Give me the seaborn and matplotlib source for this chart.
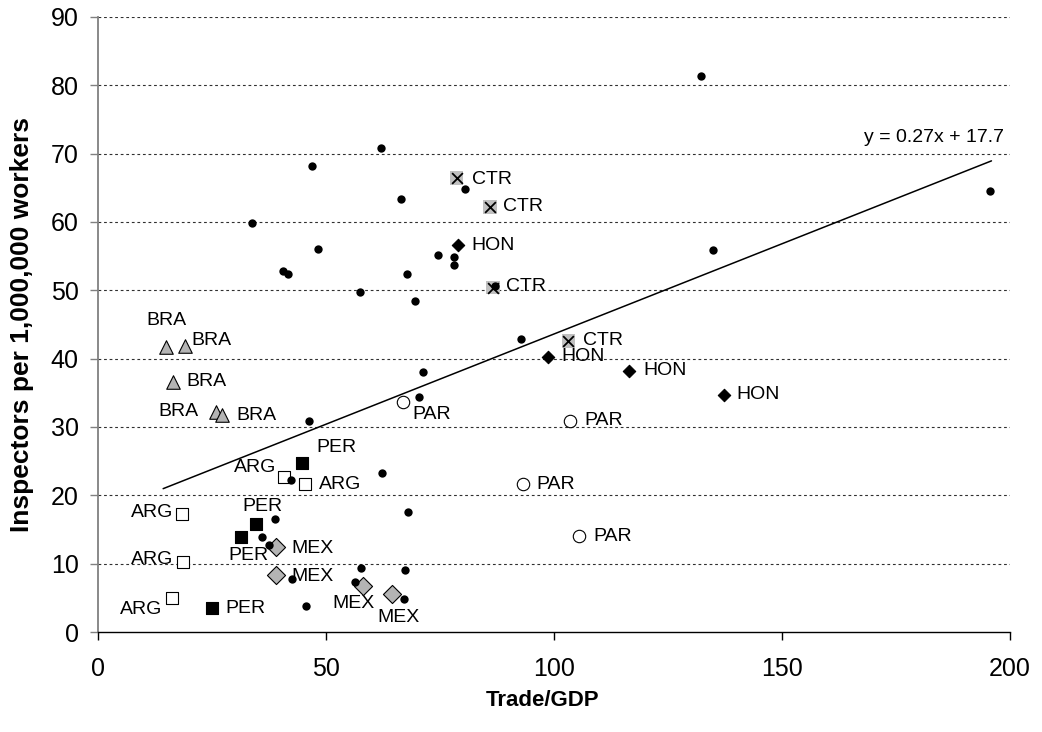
import matplotlib
matplotlib.use("Agg")
import matplotlib.pyplot as plt
import numpy as np
import seaborn as sns

# values (Trade/GDP, inspectors per 1,000,000 workers)
other_x = [195.7, 135.0, 132.2, 92.7, 80.5, 62.0, 46.9, 66.5, 33.8, 48.3, 74.6, 78.1,
           78.1, 40.5, 41.7, 67.7, 57.5, 69.6, 87.1, 71.3, 70.5, 46.3, 62.4, 42.4,
           68.0, 38.8, 36.0, 37.6, 57.6, 67.4, 42.5, 56.4, 67.1, 45.7]
other_y = [64.5, 55.9, 81.3, 42.9, 64.8, 70.9, 68.2, 63.4, 59.8, 56.1, 55.2, 54.9,
           53.7, 52.9, 52.4, 52.4, 49.7, 48.4, 50.6, 38.1, 34.4, 30.9, 23.3, 22.2,
           17.5, 16.5, 13.9, 12.7, 9.4, 9.1, 7.8, 7.3, 4.8, 3.8]

bra_x = [14.9, 19.2, 16.4, 26.0, 27.3]
bra_y = [41.7, 41.9, 36.6, 32.2, 31.7]
arg_x = [40.9, 45.5, 18.4, 18.6, 16.2]
arg_y = [22.7, 21.7, 17.2, 10.3, 5.0]
per_x = [44.7, 34.7, 31.3, 25.1]
per_y = [24.8, 15.8, 13.9, 3.5]
mex_x = [39.1, 39.0, 58.2, 64.5]
mex_y = [12.4, 8.3, 6.8, 5.6]
ctr_x = [78.7, 86.0, 86.7, 103.2]
ctr_y = [66.4, 62.2, 50.4, 42.6]
hon_x = [79.0, 98.8, 116.5, 137.4]
hon_y = [56.6, 40.3, 38.2, 34.7]
par_x = [67.0, 103.6, 93.3, 105.5]
par_y = [33.6, 30.9, 21.6, 14.0]

trend_slope = 0.264
trend_intercept = 17.2
trend_label = "y = 0.27x + 17.7"

# label placement (pixel offsets from the marker, alignment)
bra_pos = [(1, 27, "center"), (6, 5, "left"), (14, 0, "left"), (-18, 0, "right"), (14, 0, "left")]
arg_pos = [(-8, 9, "right"), (14, -1, "left"), (-9, 2, "right"), (-9, 2, "right"), (-9, -12, "right")]
per_pos = [(15, 15, "left"), (6, 18, "center"), (8, -18, "center"), (13, 0, "left")]
mex_pos = [(15, -1, "left"), (16, -1, "left"), (-10, -18, "center"), (7, -24, "center")]
ctr_pos = [(15, -1, "left"), (13, 0, "left"), (13, 1, "left"), (15, 0, "left")]
hon_pos = [(13, 0, "left"), (13, 0, "left"), (14, 0, "left"), (12, 0, "left")]
par_pos = [(9, -12, "left"), (14, 0, "left"), (13, 0, "left"), (14, 0, "left")]

sns.set_style("white")
plt.rcParams["font.family"] = ["Liberation Sans", "DejaVu Sans"]
plt.rcParams["text.color"] = "black"
plt.rcParams["axes.labelcolor"] = "black"
plt.rcParams["xtick.labelcolor"] = "black"
plt.rcParams["ytick.labelcolor"] = "black"

fig, ax = plt.subplots(figsize=(10.42, 7.32), dpi=100)
fig.subplots_adjust(left=0.094, right=0.969, bottom=0.1366, top=0.9768)

ax.set_xlim(0, 200)
ax.set_ylim(0, 90)
ax.set_yticks(np.arange(0, 91, 10))
ax.set_xticks(np.arange(0, 201, 50))
for yv in np.arange(10, 91, 10):
    ax.axhline(yv, color="#303030", lw=0.8, ls=(0, (2.5, 2.5)), zorder=0)

# trend line across the data range
all_x = np.array(other_x + bra_x + arg_x + per_x + mex_x + ctr_x + hon_x + par_x)
tx = np.array([all_x.min() - 0.6, all_x.max() + 0.3])
ax.plot(tx, trend_slope * tx + trend_intercept, color="black", lw=1.1, zorder=2)
ax.annotate(trend_label, (tx[1], trend_slope * tx[1] + trend_intercept),
            xytext=(-57, 23), textcoords="offset pixels", ha="center", va="center",
            fontsize=14)

sns.scatterplot(x=other_x, y=other_y, marker="o", s=36, color="black",
                edgecolor="black", linewidth=0, ax=ax, zorder=4)
sns.scatterplot(x=bra_x, y=bra_y, marker="^", s=95, color="#b4b4b4",
                edgecolor="black", linewidth=0.8, ax=ax, zorder=3)
sns.scatterplot(x=arg_x, y=arg_y, marker="s", s=80, color="white",
                edgecolor="black", linewidth=0.8, ax=ax, zorder=3)
sns.scatterplot(x=per_x, y=per_y, marker="s", s=80, color="black",
                edgecolor="black", linewidth=0.8, ax=ax, zorder=3)
sns.scatterplot(x=mex_x, y=mex_y, marker="D", s=85, color="#b4b4b4",
                edgecolor="black", linewidth=0.8, ax=ax, zorder=3)
sns.scatterplot(x=ctr_x, y=ctr_y, marker="s", s=95, color="#c0c0c0",
                edgecolor="none", linewidth=0, ax=ax, zorder=3)
sns.scatterplot(x=ctr_x, y=ctr_y, marker="x", s=60, color="black",
                linewidth=1.3, ax=ax, zorder=3)
sns.scatterplot(x=hon_x, y=hon_y, marker="D", s=40, color="black",
                edgecolor="black", linewidth=0.8, ax=ax, zorder=3)
sns.scatterplot(x=par_x, y=par_y, marker="o", s=80, color="white",
                edgecolor="black", linewidth=0.8, ax=ax, zorder=3)

groups = [("BRA", bra_x, bra_y, bra_pos), ("ARG", arg_x, arg_y, arg_pos),
          ("PER", per_x, per_y, per_pos), ("MEX", mex_x, mex_y, mex_pos),
          ("CTR", ctr_x, ctr_y, ctr_pos), ("HON", hon_x, hon_y, hon_pos),
          ("PAR", par_x, par_y, par_pos)]
for name, xs, ys, pos in groups:
    for xv, yv, (dx, dy, ha) in zip(xs, ys, pos):
        ax.annotate(name, (xv, yv), xytext=(dx, dy), textcoords="offset pixels",
                    ha=ha, va="center", fontsize=14, color="black", zorder=5)

for side in ["top", "right"]:
    ax.spines[side].set_visible(False)
ax.spines["left"].set_color("#808080")
ax.spines["left"].set_linewidth(1.3)
ax.spines["bottom"].set_color("black")
ax.spines["bottom"].set_linewidth(1.0)
ax.tick_params(axis="y", direction="out", length=6, width=1, color="#808080",
               labelsize=18, left=True, pad=8)
ax.tick_params(axis="x", direction="out", length=6, width=1, color="black",
               labelsize=18, bottom=True, pad=12)
ax.set_xlabel("Trade/GDP", fontsize=16, fontweight="bold", labelpad=9)
ax.xaxis.set_label_coords(0.488, -0.095)
ax.set_ylabel("Inspectors per 1,000,000 workers", fontsize=19, fontweight="bold", labelpad=12)

fig.savefig("out.png", dpi=100)
